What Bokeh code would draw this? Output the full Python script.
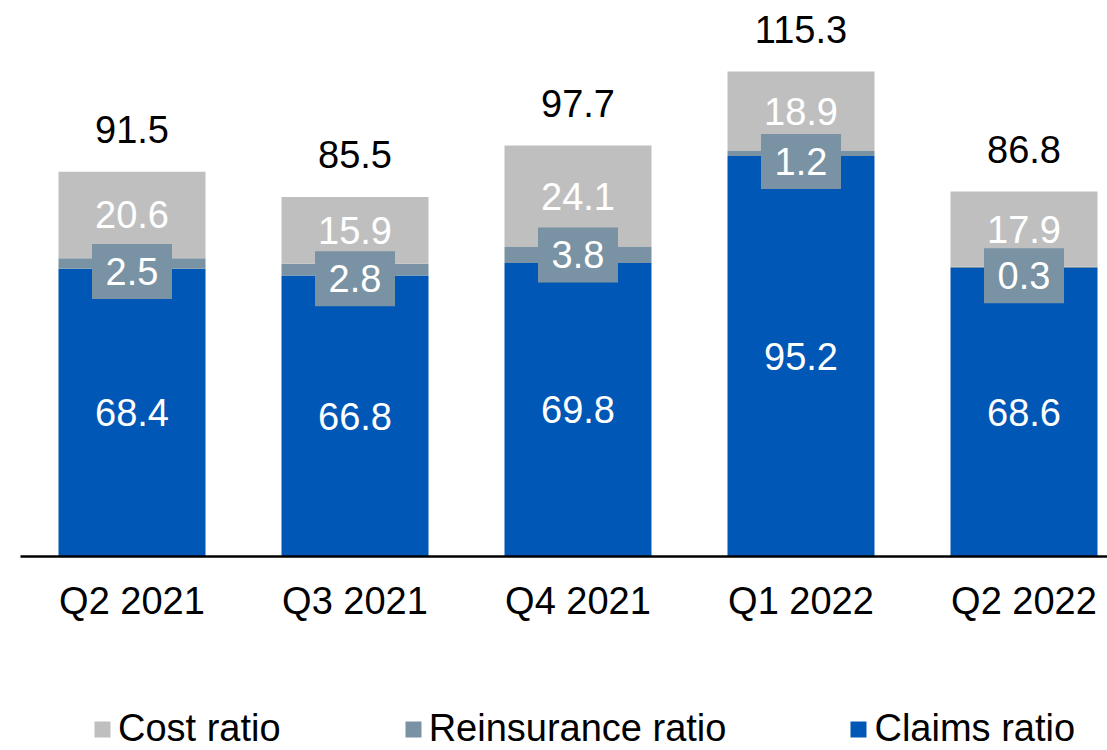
from bokeh.plotting import figure
from bokeh.layouts import column
from bokeh.models import ColumnDataSource, Range1d, FixedTicker, Legend, LegendItem
from bokeh.core.properties import value
from bokeh.embed import file_html
from bokeh.resources import INLINE

quarters = ["Q2 2021", "Q3 2021", "Q4 2021", "Q1 2022", "Q2 2022"]
claims = [68.4, 66.8, 69.8, 95.2, 68.6]
reins = [2.5, 2.8, 3.8, 1.2, 0.3]
cost = [20.6, 15.9, 24.1, 18.9, 17.9]
total = [91.5, 85.5, 97.7, 115.3, 86.8]
series_names = ["Cost ratio", "Reinsurance ratio", "Claims ratio"]

C_COST = "#BFBFBF"
C_REINS = "#7A93A4"
C_CLAIMS = "#0057B5"
FONT = "Liberation Sans"
FS = "38px"

FRAME_H = 548
Y_END = 130.3
PPU = FRAME_H / Y_END
reins_shift = [8, 9, 0, 8, 8.5]  # px downward label shift (style)

xs = list(range(len(quarters)))
src = ColumnDataSource(dict(
    x=xs, claims=claims, reins=reins, cost=cost, total=total,
    claims_lbl=[f"{v:.1f}" for v in claims],
    reins_lbl=[f"{v:.1f}" for v in reins],
    cost_lbl=[f"{v:.1f}" for v in cost],
    total_lbl=[f"{v:.1f}" for v in total],
    claims_mid=[c / 2 for c in claims],
    reins_mid=[c + r / 2 - s / PPU for c, r, s in zip(claims, reins, reins_shift)],
    cost_mid=[c + r + k / 2 for c, r, k in zip(claims, reins, cost)],
))

TOP_H = 640
p = figure(frame_width=1087, frame_height=FRAME_H, output_backend="svg",
           toolbar_location=None, x_range=Range1d(-0.5, -0.5 + 1087 / 223),
           y_range=Range1d(0, Y_END), y_axis_location=None,
           min_border_left=20, min_border_right=0, min_border_top=8,
           min_border_bottom=TOP_H - 8 - FRAME_H)
p.outline_line_color = None
p.grid.visible = False
p.background_fill_color = "white"
p.border_fill_color = "white"

W = 147 / 223
rs = p.vbar_stack(["claims", "reins", "cost"], x="x", width=W, source=src,
                  color=[C_CLAIMS, C_REINS, C_COST], line_color=None)

# reinsurance label boxes
p.rect(x="x", y="reins_mid", width=80, height=55, width_units="screen",
       height_units="screen", source=src, fill_color=C_REINS, line_color=None)

common = dict(text_font=value(FONT), text_font_size=FS, text_align="center",
              text_baseline="alphabetic", source=src, x="x")
p.text(y="claims_mid", text="claims_lbl", text_color="white", y_offset=0, **common)
p.text(y="reins_mid", text="reins_lbl", text_color="white", y_offset=0, **common)
p.text(y="cost_mid", text="cost_lbl", text_color="white", y_offset=0, **common)
p.text(y="total", text="total_lbl", text_color="black", y_offset=-42, **common)

ax = p.xaxis[0]
ax.ticker = FixedTicker(ticks=xs)
ax.major_label_overrides = {i: q for i, q in enumerate(quarters)}
ax.major_tick_line_color = None
ax.minor_tick_line_color = None
ax.axis_line_color = "black"
ax.axis_line_width = 2.5
ax.major_label_text_font = FONT
ax.major_label_text_font_size = FS
ax.major_label_text_color = "black"
ax.major_label_standoff = 17

# legend strip
LEG_H = 750 - TOP_H
p2 = figure(width=1107, height=LEG_H, output_backend="svg", toolbar_location=None,
            x_range=Range1d(0, 1), y_range=Range1d(0, 1),
            x_axis_location=None, y_axis_location=None,
            min_border_left=0, min_border_right=0, min_border_top=0,
            min_border_bottom=0)
p2.outline_line_color = None
p2.grid.visible = False
p2.border_fill_color = "white"
leg_colors = [C_COST, C_REINS, C_CLAIMS]
# zero-height swatch renderers (only used for the legend glyphs)
swatches = [p2.vbar(x=[0], top=[0], bottom=[0], width=0, fill_color=c, line_color=None)
            for c in leg_colors]

legend = Legend(items=[LegendItem(label=n, renderers=[r]) for n, r in zip(series_names, swatches)],
                orientation="horizontal", location=(72, 0), border_line_color=None,
                background_fill_alpha=0, padding=0, margin=0, spacing=122,
                label_standoff=6, glyph_width=20, glyph_height=20, label_height=40,
                label_text_font=FONT, label_text_font_size=FS, label_text_color="black")
p2.add_layout(legend)

open("out.html", "w").write(file_html(column(p, p2, spacing=0), INLINE))
